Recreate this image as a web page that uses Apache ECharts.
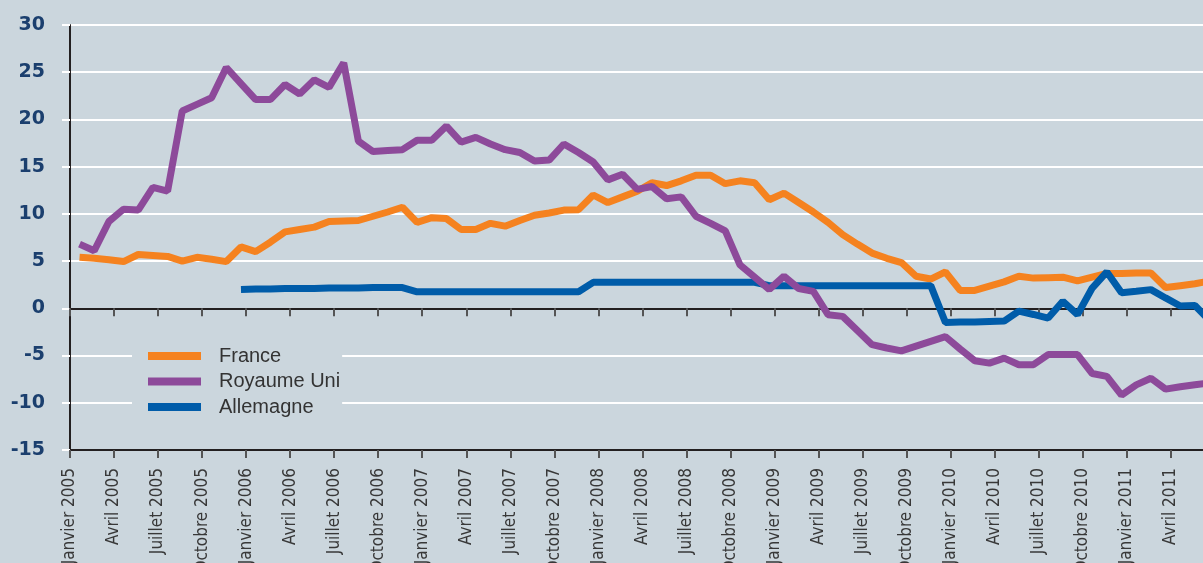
<!DOCTYPE html>
<html>
<head>
<meta charset="utf-8">
<script src="https://cdn.jsdelivr.net/npm/echarts@6/dist/echarts.min.js"></script>
<style>
  html, body { margin: 0; padding: 0; background: #cbd6dd; }
  #chart { width: 1203px; height: 563px; }
</style>
</head>
<body>
<div id="chart"></div>
<script>
// tick labels, one every 3 months starting Janvier 2005
var tickLabels = [
  'Janvier 2005', 'Avril 2005', 'Juillet 2005', 'Octobre 2005',
  'Janvier 2006', 'Avril 2006', 'Juillet 2006', 'Octobre 2006',
  'Janvier 2007', 'Avril 2007', 'Juillet 2007', 'Octobre 2007',
  'Janvier 2008', 'Avril 2008', 'Juillet 2008', 'Octobre 2008',
  'Janvier 2009', 'Avril 2009', 'Juillet 2009', 'Octobre 2009',
  'Janvier 2010', 'Avril 2010', 'Juillet 2010', 'Octobre 2010',
  'Janvier 2011', 'Avril 2011'
];

// monthly values, Janvier 2005 .. Juin 2011
var france = [
  5.4, 5.3, 5.15, 4.95, 5.7, 5.6, 5.5, 5.0, 5.4, 5.2,
  4.95, 6.5, 6.0, 7.0, 8.1, 8.35, 8.6, 9.2, 9.25, 9.3,
  9.75, 10.2, 10.7, 9.1, 9.6, 9.5, 8.35, 8.35, 9.0, 8.7,
  9.3, 9.85, 10.1, 10.4, 10.45, 12.0, 11.2, 11.8, 12.4, 13.3,
  13.0, 13.5, 14.1, 14.1, 13.2, 13.5, 13.3, 11.5, 12.2, 11.2,
  10.2, 9.1, 7.8, 6.8, 5.85, 5.3, 4.85, 3.4, 3.1, 3.85,
  1.9, 1.9, 2.35, 2.8, 3.4, 3.2, 3.25, 3.3, 2.9, 3.3,
  3.7, 3.7, 3.75, 3.75, 2.2, 2.4, 2.6, 2.9
];
var royaumeUni = [
  6.8, 6.1, 9.2, 10.5, 10.4, 12.8, 12.4, 20.9, 21.6, 22.3,
  25.5, 23.8, 22.1, 22.1, 23.7, 22.7, 24.2, 23.4, 26.0, 17.7,
  16.6, 16.7, 16.8, 17.8, 17.8, 19.3, 17.6, 18.1, 17.4, 16.8,
  16.5, 15.6, 15.7, 17.4, 16.5, 15.5, 13.6, 14.2, 12.6, 12.9,
  11.6, 11.8, 9.75, 9.0, 8.2, 4.6, 3.3, 2.0, 3.4, 2.1,
  1.8, -0.67, -0.85, -2.35, -3.85, -4.2, -4.5, -4.0, -3.5, -3.0,
  -4.3, -5.55, -5.8, -5.27, -5.97, -5.97, -4.9, -4.9, -4.9, -6.9,
  -7.2, -9.2, -8.1, -7.4, -8.55, -8.3, -8.1, -7.9
];
var allemagne = [
  null, null, null, null, null, null, null, null, null, null,
  null, 2.0, 2.05, 2.05, 2.1, 2.1, 2.1, 2.15, 2.15, 2.15,
  2.2, 2.2, 2.2, 1.75, 1.75, 1.75, 1.75, 1.75, 1.75, 1.75,
  1.75, 1.75, 1.75, 1.75, 1.75, 2.75, 2.75, 2.75, 2.75, 2.75,
  2.75, 2.75, 2.75, 2.75, 2.75, 2.75, 2.75, 2.4, 2.4, 2.4,
  2.4, 2.4, 2.4, 2.4, 2.4, 2.4, 2.4, 2.4, 2.4, -1.5,
  -1.45, -1.45, -1.4, -1.35, -0.3, -0.65, -1.03, 0.75, -0.67, 2.15,
  3.85, 1.65, 1.8, 1.98, 1.1, 0.25, 0.3, -1.3
];

var bg = '#cbd6dd';
var pointOffset = 0.65; // points sit inside the month

function toPairs(values) {
  var out = [];
  values.forEach(function (v, i) {
    if (v !== null) out.push([i + pointOffset, v]);
  });
  return out;
}

var chart = echarts.init(document.getElementById('chart'));

var labelFont = '"Liberation Sans Narrow", "DejaVu Sans Condensed", "Arial Narrow", sans-serif';

chart.setOption({
  backgroundColor: bg,
  animation: false,
  grid: { left: 70, right: 0, top: 25, bottom: 113, outerBoundsMode: 'none', containLabel: false },
  legend: {
    orient: 'vertical',
    left: 132,
    top: 340,
    backgroundColor: bg,
    padding: [6, 2, 6, 16],
    itemWidth: 53,
    itemHeight: 8,
    itemGap: 5.5,
    icon: 'rect',
    textStyle: {
      color: '#333',
      fontSize: 20,
      lineHeight: 20,
      fontFamily: '"Liberation Sans", Arial, sans-serif',
      padding: [0, 0, 0, 13]
    },
    data: ['France', 'Royaume Uni', 'Allemagne']
  },
  xAxis: [
    {
      type: 'value',
      min: 0,
      max: 77.2,
      interval: 3,
      position: 'bottom',
      axisLine: { onZero: false, lineStyle: { color: '#231f20', width: 2 } },
      axisTick: { length: 8, lineStyle: { color: '#555', width: 2 } },
      splitLine: { show: false },
      axisLabel: {
        rotate: 90,
        margin: 18,
        showMaxLabel: false,
        color: '#383838',
        fontSize: 17,
        fontFamily: labelFont,
        formatter: function (v) { return tickLabels[Math.round(v / 3)] || ''; }
      }
    },
    {
      type: 'value',
      min: 0,
      max: 77.2,
      interval: 3,
      position: 'top',
      axisLine: { onZero: true, lineStyle: { color: '#231f20', width: 2 } },
      axisTick: { inside: true, length: 8, lineStyle: { color: '#555', width: 2 } },
      splitLine: { show: false },
      axisLabel: { show: false }
    }
  ],
  yAxis: {
    type: 'value',
    min: -15,
    max: 30,
    interval: 5,
    axisLine: { show: true, onZero: false, lineStyle: { color: '#231f20', width: 2 } },
    axisTick: { show: true, length: 8, lineStyle: { color: '#fff', width: 2 } },
    splitLine: { lineStyle: { color: '#fff', width: 2 } },
    axisLabel: {
      margin: 25,
      color: '#1b3f6e',
      fontSize: 19,
      fontWeight: 'bold',
      fontFamily: '"DejaVu Sans", sans-serif'
    }
  },
  series: [
    {
      name: 'France',
      type: 'line',
      xAxisIndex: 0,
      data: toPairs(france),
      symbol: 'none',
      z: 2,
      itemStyle: { color: '#f5821f' },
      lineStyle: { color: '#f5821f', width: 7 }
    },
    {
      name: 'Royaume Uni',
      type: 'line',
      xAxisIndex: 0,
      data: toPairs(royaumeUni),
      symbol: 'none',
      z: 4,
      itemStyle: { color: '#8d4a9a' },
      lineStyle: { color: '#8d4a9a', width: 7 }
    },
    {
      name: 'Allemagne',
      type: 'line',
      xAxisIndex: 0,
      data: toPairs(allemagne),
      symbol: 'none',
      z: 3,
      itemStyle: { color: '#005ca9' },
      lineStyle: { color: '#005ca9', width: 7 }
    }
  ]
});
</script>
</body>
</html>
